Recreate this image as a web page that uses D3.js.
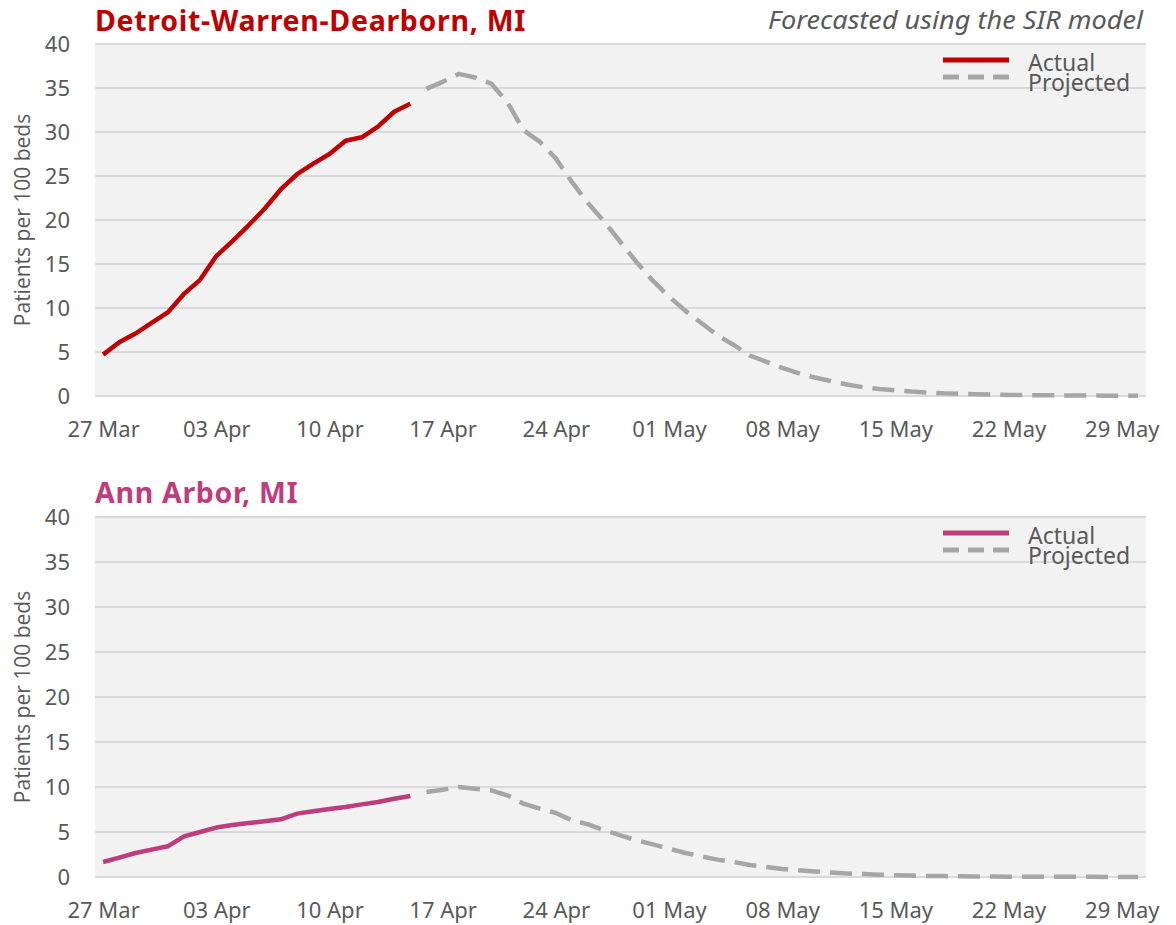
<!DOCTYPE html>
<html>
<head>
<meta charset="utf-8">
<script src="https://cdn.jsdelivr.net/npm/d3@7"></script>
<style>
  html, body { margin: 0; padding: 0; background: #ffffff; }
  svg { display: block; }
</style>
</head>
<body>
<svg id="chart" width="1176" height="925"></svg>
<script>
// ---------- data ----------
const startDate = new Date(2020, 2, 27);   // 27 Mar
const endDate = new Date(2020, 4, 30);     // 30 May
const actualDays = 20;                     // 27 Mar .. 15 Apr are actual

const tickLabels = ["27 Mar", "03 Apr", "10 Apr", "17 Apr", "24 Apr", "01 May", "08 May", "15 May", "22 May", "29 May"];
const yTicks = [0, 5, 10, 15, 20, 25, 30, 35, 40];

const detroitActual = [4.7, 6.1, 7.1, 8.3, 9.5, 11.6, 13.2, 15.9, 17.6, 19.4,
  21.3, 23.5, 25.2, 26.4, 27.5, 29.0, 29.4, 30.6, 32.3, 33.2];
const detroitProjected = [34.9, 35.7, 36.6, 36.2, 35.5, 33.4, 30.2, 28.9, 27.0, 24.3,
  21.9, 19.8, 17.5, 15.2, 13.1, 11.3, 9.7, 8.3, 6.9, 5.8,
  4.6, 3.9, 3.2, 2.6, 2.1, 1.7, 1.3, 1.0, 0.8, 0.65,
  0.5, 0.4, 0.3, 0.25, 0.2, 0.15, 0.12, 0.1, 0.08, 0.07,
  0.06, 0.05, 0.04, 0.03, 0.03];

const annArborActual = [1.67, 2.15, 2.67, 3.04, 3.41, 4.52, 5.0, 5.49, 5.78, 6.0,
  6.19, 6.41, 7.04, 7.3, 7.56, 7.78, 8.07, 8.33, 8.7, 9.0];
const annArborProjected = [9.44, 9.7, 10.0, 9.8, 9.63, 9.07, 8.15, 7.6, 7.11, 6.3,
  5.85, 5.19, 4.63, 4.07, 3.63, 3.15, 2.67, 2.3, 1.93, 1.67,
  1.33, 1.11, 0.89, 0.75, 0.62, 0.5, 0.4, 0.32, 0.26, 0.2,
  0.16, 0.12, 0.1, 0.08, 0.06, 0.05, 0.04, 0.03, 0.03, 0.02,
  0.02, 0.02, 0.01, 0.01, 0.01];

const panelTitles = ["Detroit-Warren-Dearborn, MI", "Ann Arbor, MI"];
const seriesNames = ["Actual", "Projected"];
const subtitle = "Forecasted using the SIR model";
const yAxisTitle = "Patients per 100 beds";

// ---------- layout / style ----------
const days = d3.timeDay.range(startDate, d3.timeDay.offset(endDate, 1));
const fmt = d3.timeFormat("%d %b");
const panels = [
  { title: panelTitles[0], color: "#C00000", actual: detroitActual, projected: detroitProjected, top: 44, bottom: 396, titleY: 31 },
  { title: panelTitles[1], color: "#BF3D7C", actual: annArborActual, projected: annArborProjected, top: 517, bottom: 877, titleY: 503 }
];
const left = 95, right = 1146;
const textGray = "#595959";
const projGray = "#A6A6A6";
const font = "'Noto Sans', 'Open Sans', sans-serif";

const svg = d3.select("#chart");

const x = d3.scalePoint().domain(days.map(fmt)).range([left, right]).padding(0.5);

panels.forEach((p, pi) => {
  const y = d3.scaleLinear().domain([0, 40]).range([p.bottom, p.top]);
  const g = svg.append("g");

  // plot background
  g.append("rect").attr("x", left).attr("y", p.top).attr("width", right - left).attr("height", p.bottom - p.top)
    .attr("fill", "#F2F2F2");

  // gridlines
  g.selectAll("line.grid").data(yTicks).join("line").attr("class", "grid")
    .attr("x1", left).attr("x2", right)
    .attr("y1", d => y(d)).attr("y2", d => y(d))
    .attr("stroke", "#D9D9D9").attr("stroke-width", 2);

  // y axis
  const yAxis = g.append("g").attr("transform", `translate(${left - 25},0)`)
    .call(d3.axisLeft(y).tickValues(yTicks).tickSize(0).tickPadding(0));
  yAxis.select(".domain").remove();
  yAxis.selectAll("text").attr("fill", textGray).style("font-family", font).style("font-size", "22px")
    .attr("dy", "0.36em");

  // x axis
  const xAxis = g.append("g").attr("transform", `translate(0,${p.bottom})`)
    .call(d3.axisBottom(x).tickValues(tickLabels).tickSize(0).tickPadding(0));
  xAxis.select(".domain").remove();
  xAxis.selectAll("text").attr("fill", textGray).style("font-family", font).style("font-size", "22px")
    .attr("dy", null).attr("y", 41);

  // y axis title
  g.append("text")
    .attr("transform", `translate(30,${(p.top + p.bottom) / 2}) rotate(-90)`)
    .attr("text-anchor", "middle")
    .attr("fill", textGray).style("font-family", "'Open Sans', sans-serif").style("font-size", "21px")
    .text(yAxisTitle);

  // title
  g.append("text").attr("x", left).attr("y", p.titleY)
    .attr("fill", p.color).style("font-family", font).style("font-size", "28.5px").style("font-weight", "bold")
    .style("letter-spacing", "0.7px")
    .text(p.title);

  // lines
  const line = d3.line().x(d => x(d[0])).y(d => y(d[1]));
  const actualPts = p.actual.map((v, i) => [fmt(days[i]), v]);
  const projPts = p.projected.map((v, i) => [fmt(days[i + actualDays]), v]);

  g.append("path").datum(projPts).attr("d", line)
    .attr("fill", "none").attr("stroke", projGray).attr("stroke-width", 4.5)
    .attr("stroke-dasharray", "22,10").attr("stroke-linejoin", "round");
  g.append("path").datum(actualPts).attr("d", line)
    .attr("fill", "none").attr("stroke", p.color).attr("stroke-width", 4.5)
    .attr("stroke-linejoin", "round");

  // legend
  const ly = p.top;
  g.append("line").attr("x1", 943).attr("x2", 1009).attr("y1", ly + 16).attr("y2", ly + 16)
    .attr("stroke", p.color).attr("stroke-width", 5);
  g.append("line").attr("x1", 943).attr("x2", 1009).attr("y1", ly + 33).attr("y2", ly + 33)
    .attr("stroke", projGray).attr("stroke-width", 5).attr("stroke-dasharray", "16,9");
  g.append("text").attr("x", 1028).attr("y", ly + 26.5).attr("fill", textGray)
    .style("font-family", font).style("font-size", "23px").text(seriesNames[0]);
  g.append("text").attr("x", 1028).attr("y", ly + 47).attr("fill", textGray)
    .style("font-family", font).style("font-size", "23px").text(seriesNames[1]);

  if (pi === 0) {
    svg.append("text").attr("x", 1143).attr("y", 29).attr("text-anchor", "end")
      .attr("fill", textGray).style("font-family", font).style("font-size", "26px").style("font-style", "italic")
      .attr("textLength", 375).attr("lengthAdjust", "spacingAndGlyphs")
      .text(subtitle);
  }
});
</script>
</body>
</html>
